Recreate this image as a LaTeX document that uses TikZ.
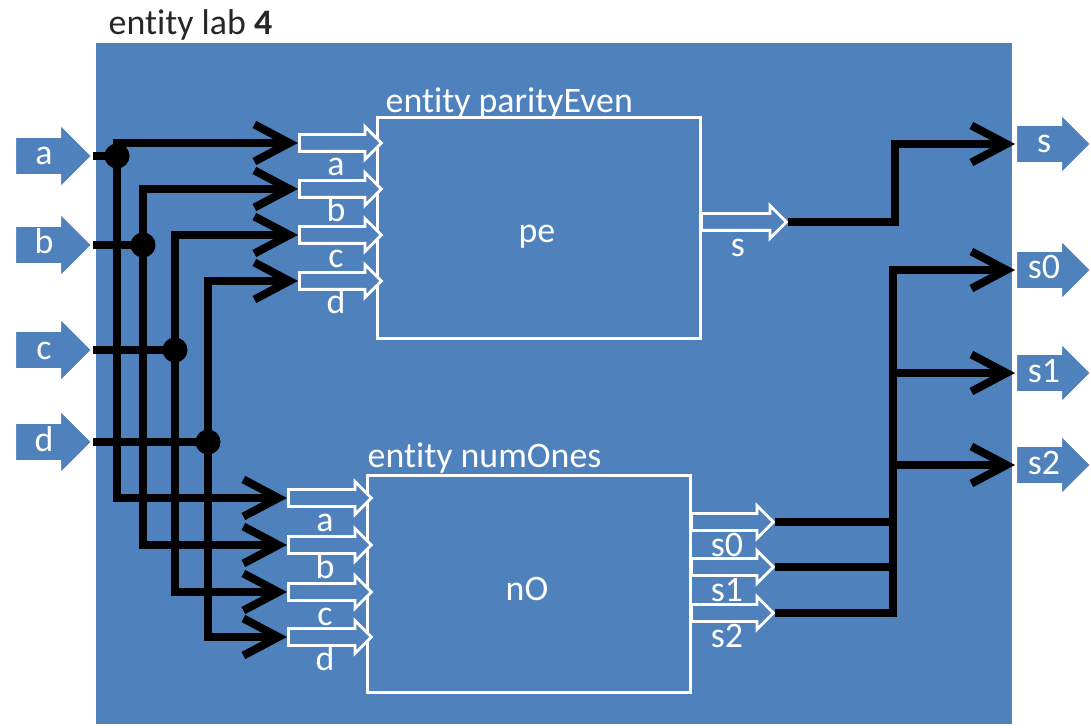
\documentclass[tikz,border=0pt]{standalone}
\usepackage{fontspec}
\setmainfont{Carlito}[Ligatures={NoCommon,NoContextual}]
\usetikzlibrary{shapes.arrows, arrows.meta, positioning}
\definecolor{cLab}{RGB}{79,129,189}
\definecolor{cTitle}{RGB}{38,38,38}
\tikzset{
	labbox/.style   ={rectangle, draw=white, line width=0.03cm, fill=cLab},
	entity/.style   ={rectangle, draw=white, line width=0.03cm, fill=cLab},
	entname/.style  ={anchor=base west, text=white, inner sep=0pt},
	blockarr/.style ={single arrow, single arrow head extend=0.13cm, draw=white, line width=0.02cm, fill=cLab, text=white, text height=0.24cm, text depth=0.06cm, inner ysep=0.03cm, inner xsep=0.05cm, minimum height=0.77cm, anchor=tail},
	portarr/.style  ={single arrow, single arrow head extend=0.08cm, draw=white, line width=0.028cm, fill=cLab, inner sep=0pt, inner ysep=0.07cm, text height=0pt, text depth=0pt, minimum height=0.82cm, anchor=tail},
	portlbl/.style  ={anchor=base, text=white, inner sep=0pt},
	junct/.style    ={circle, fill=black, minimum size=0.25cm, inner sep=0pt},
	wire/.style     ={line width=0.08cm, line join=miter},
	sig/.style      ={wire, -{Straight Barb[length=0.35cm, width=0.37cm]}},
}
\begin{document}
\begin{tikzpicture}[x=0.01cm, y=-0.01cm, font=\fontsize{10.2}{12}\selectfont]
\useasboundingbox (0,0) rectangle (1091,728);
% entity lab4
\node[labbox, minimum width=9.18cm, minimum height=6.83cm] (lab) at (554,383.5) {};
\node[anchor=base west, inner sep=0pt, text=cTitle] (labName) at (108,35) {entity lab \textbf{4}};

% entity parityEven
\node[entity, minimum width=3.22cm, minimum height=2.2cm] (pe) at (539,228) {};
\node[entname] (peName) at (385,113) {entity parityEven};
\node[text=white] (peInst) at (537,237) {pe};
\node[portarr] (pea) at (298,143) {};
\node[portarr] (peb) at (298,189) {};
\node[portarr] (pec) at (298,235) {};
\node[portarr] (ped) at (298,281) {};
\node[portlbl] (peaL) at (336,176) {a};
\node[portlbl] (pebL) at (336,222) {b};
\node[portlbl] (pecL) at (336,268) {c};
\node[portlbl] (pedL) at (336,314) {d};
\node[portarr, minimum height=0.85cm] (pes) at (700,222) {};
\node[portlbl] (pesL) at (738,257) {s};

% entity numOnes
\node[entity, minimum width=3.22cm, minimum height=2.16cm] (no) at (529,584) {};
\node[entname] (noName) at (367,468) {entity numOnes};
\node[text=white] (noInst) at (527,589) {nO};
\node[portarr, minimum height=0.83cm] (noa) at (287,498) {};
\node[portarr, minimum height=0.83cm] (nob) at (287,545) {};
\node[portarr, minimum height=0.83cm] (noc) at (287,592) {};
\node[portarr, minimum height=0.83cm] (nod) at (287,637) {};
\node[portlbl] (noaL) at (325,532) {a};
\node[portlbl] (nobL) at (325,579) {b};
\node[portlbl] (nocL) at (325,626) {c};
\node[portlbl] (nodL) at (325,671) {d};
\node[portarr] (nos0) at (690,522) {};
\node[portarr] (nos1) at (690,567) {};
\node[portarr] (nos2) at (690,613) {};
\node[portlbl] (nos0L) at (727,557) {s0};
\node[portlbl] (nos1L) at (727,602) {s1};
\node[portlbl] (nos2L) at (727,648) {s2};

% ports of lab4
\node[blockarr] (inA) at (14,156) {a};
\node[blockarr] (inB) at (14,245) {b};
\node[blockarr] (inC) at (14,350) {c};
\node[blockarr] (inD) at (14,442) {d};
\node[blockarr, minimum height=0.75cm, single arrow head extend=0.11cm] (outS) at (1015,144) {s};
\node[blockarr, minimum height=0.75cm, single arrow head extend=0.11cm] (outS0) at (1015,270) {s0};
\node[blockarr, minimum height=0.75cm, single arrow head extend=0.11cm] (outS1) at (1015,373) {s1};
\node[blockarr, minimum height=0.75cm, single arrow head extend=0.11cm] (outS2) at (1015,465) {s2};

% input fan-out
\node[junct] (jA) at (117,156) {};
\node[junct] (jB) at (143,245) {};
\node[junct] (jC) at (175,350) {};
\node[junct] (jD) at (208,442) {};
\draw[wire] (inA.tip) -- (jA.center);
\draw[wire] (inB.tip) -- (jB.center);
\draw[wire] (inC.tip) -- (jC.center);
\draw[wire] (inD.tip) -- (jD.center);
\draw[sig] (jA.center) |- (pea.tail);
\draw[sig] (jA.center) |- (noa.tail);
\draw[sig] (jB.center) |- (peb.tail);
\draw[sig] (jB.center) |- (nob.tail);
\draw[sig] (jC.center) |- (pec.tail);
\draw[sig] (jC.center) |- (noc.tail);
\draw[sig] (jD.center) |- (ped.tail);
\draw[sig] (jD.center) |- (nod.tail);

% outputs
\coordinate (kS) at (895,222);
\coordinate (kO) at (893,270);
\draw[sig] (pes.tip) -- (kS) |- (outS.tail);
\draw[sig] (nos2.tip) -| (kO) -- (outS0.tail);
\draw[wire] (nos0.tip) -- (nos0.tip -| kO);
\draw[wire] (nos1.tip) -- (nos1.tip -| kO);
\draw[sig] (kO |- outS1.tail) -- (outS1.tail);
\draw[sig] (kO |- outS2.tail) -- (outS2.tail);
\end{tikzpicture}
\end{document}
